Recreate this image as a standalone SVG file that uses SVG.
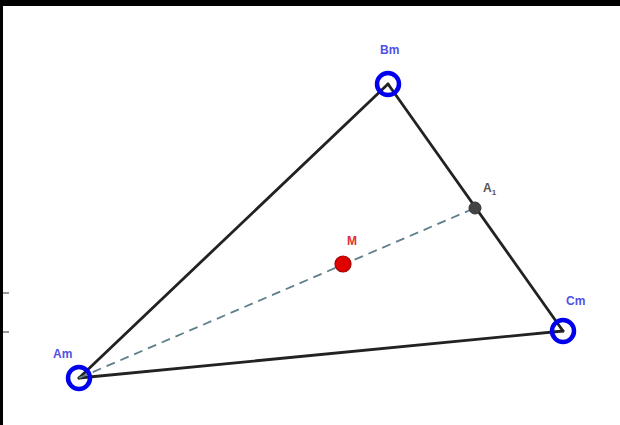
<svg xmlns="http://www.w3.org/2000/svg" width="620" height="425" viewBox="0 0 620 425">
<style>
.lbl{font-family:"Liberation Sans",Arial,sans-serif;font-size:12px;font-weight:bold}
.blue{fill:#5050e8}
.free{fill:none;stroke:#0000ee;stroke-width:4.5}
.edge{stroke:#222;stroke-width:2.8;stroke-linecap:round}
</style>
<rect x="0" y="0" width="620" height="425" fill="#fff"/>
<rect x="0" y="0" width="620" height="6" fill="#000"/>
<rect x="0" y="0" width="3" height="425" fill="#000"/>
<rect x="3" y="292" width="6" height="2" fill="#999"/>
<rect x="3" y="331" width="6" height="2" fill="#999"/>
<g id="connectors">
<line class="edge" x1="79" y1="378" x2="388" y2="84"/>
<line class="edge" x1="388" y1="84" x2="563" y2="331"/>
<line class="edge" x1="563" y1="331" x2="79" y2="378"/>
<line x1="79" y1="378" x2="475" y2="208" stroke="#5f7f8c" stroke-width="1.8" stroke-dasharray="9,6"/>
</g>
<g id="Am"><circle class="free" cx="79" cy="378" r="11"/><text class="lbl blue" x="53" y="358">Am</text></g>
<g id="Bm"><circle class="free" cx="388" cy="84" r="11"/><text class="lbl blue" x="380" y="54">Bm</text></g>
<g id="Cm"><circle class="free" cx="563" cy="331" r="11"/><text class="lbl blue" x="566" y="305">Cm</text></g>
<g id="A1"><circle cx="475" cy="208" r="6" fill="#444" stroke="#333" stroke-width="1"/><text class="lbl" x="483" y="192" fill="#555">A<tspan font-size="8" dy="3">1</tspan></text></g>
<g id="M"><circle cx="343" cy="264" r="8" fill="#e00000" stroke="#a00000" stroke-width="1.2"/><text class="lbl" x="347" y="245" fill="#e03030">M</text></g>
</svg>
